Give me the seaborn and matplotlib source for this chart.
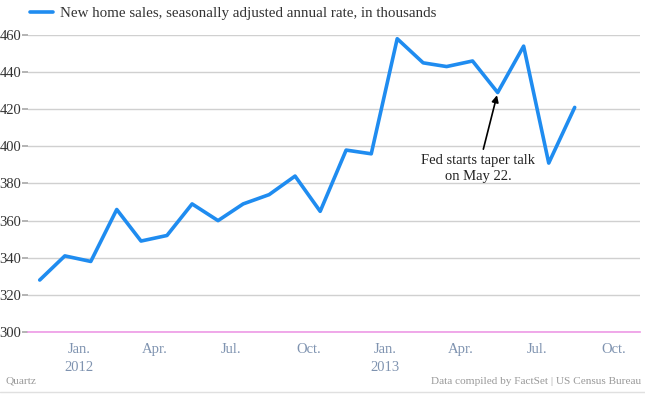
import pandas as pd
import numpy as np
import matplotlib
matplotlib.use("Agg")
import matplotlib.pyplot as plt
import matplotlib.dates as mdates
import seaborn as sns

# ----------------- Data -----------------
months = pd.date_range("2011-11-01", "2013-08-01", freq="MS") + pd.Timedelta(days=14)
sales = [328, 341, 338, 366, 349, 352, 369, 360, 369, 374, 384, 365,
         398, 396, 458, 445, 443, 446, 429, 454, 391, 421]
y_ticks = [300, 320, 340, 360, 380, 400, 420, 440, 460]
series_label = "New home sales, seasonally adjusted annual rate, in thousands"
note_text = "Fed starts taper talk\non May 22."
note_date = pd.Timestamp("2013-05-15")

df = pd.DataFrame({"date": months, "sales": sales})

# ----------------- Style -----------------
sns.set_theme(style="white")
plt.rcParams["font.family"] = ["Liberation Serif"]

line_color = "#1f8cf0"
fig = plt.figure(figsize=(6.45, 3.94), dpi=100)
ax = fig.add_axes([28 / 645, 1 - 332 / 394, 612 / 645, 297 / 394])

sns.lineplot(data=df, x="date", y="sales", ax=ax, color=line_color, linewidth=2.6)

ax.set_xlim(pd.Timestamp("2011-11-01"), pd.Timestamp("2013-11-01"))
ax.set_ylim(300, 460)
ax.set_yticks(y_ticks)
ax.yaxis.grid(True, color="#d0d0d0", linewidth=1)
ax.set_axisbelow(True)
ax.set_xlabel("")
ax.set_ylabel("")

for side in ["top", "right", "left"]:
    ax.spines[side].set_visible(False)
ax.spines["bottom"].set_color("#ee99e6")
ax.spines["bottom"].set_linewidth(1.2)

# x ticks: quarters labelled, months minor
ax.xaxis.set_major_locator(mdates.MonthLocator(bymonth=[1, 4, 7, 10]))
ax.xaxis.set_minor_locator(mdates.MonthLocator())

def fmt_date(x, pos=None):
    d = mdates.num2date(x)
    name = {1: "Jan.", 4: "Apr.", 7: "Jul.", 10: "Oct."}[d.month]
    if d.month == 1:
        return f"{name}\n{d.year}"
    return name

ax.xaxis.set_major_formatter(plt.FuncFormatter(fmt_date))
ax.tick_params(axis="x", which="major", direction="in", length=4, color="#f2c0ee",
               labelsize=10.5, labelcolor="#7f93b0", pad=8)
ax.tick_params(axis="x", which="minor", direction="in", length=3, color="#f2c0ee")
ax.tick_params(axis="y", which="major", direction="out", length=4, color="#aaaaaa",
               labelsize=10.5, labelcolor="#333333", pad=1, left=True)
fig.canvas.draw()
for lbl in ax.get_xticklabels():
    lbl.set_linespacing(1.45)

# legend
fig.lines.append(plt.Line2D([30 / 645, 53 / 645], [1 - 12 / 394, 1 - 12 / 394],
                            transform=fig.transFigure, color=line_color, linewidth=2.6))
fig.text(60 / 645, 1 - 13 / 394, series_label, fontsize=10.8, color="#333333",
         va="center", ha="left")

# annotation
note_y = df.loc[df["date"] == note_date, "sales"].iloc[0]
ax.annotate(note_text, xy=(note_date, note_y), xytext=(pd.Timestamp("2013-04-22"), 396),
            ha="center", va="top", fontsize=10.5, color="#222222", linespacing=1.35,
            arrowprops=dict(arrowstyle="-|>", color="black", lw=1.2,
                            shrinkA=1, shrinkB=2, mutation_scale=10))

# footer
fig.text(5 / 645, 1 - 381 / 394, "Quartz", fontsize=8.1, color="#999999",
         ha="left", va="center")
fig.text(641 / 645, 1 - 381 / 394, "Data compiled by FactSet | US Census Bureau",
         fontsize=8.1, color="#999999", ha="right", va="center")
fig.lines.append(plt.Line2D([0, 1], [1 - 392 / 394, 1 - 392 / 394],
                            transform=fig.transFigure, color="#e0e0e0", linewidth=1))

fig.savefig("out.png", dpi=100)
